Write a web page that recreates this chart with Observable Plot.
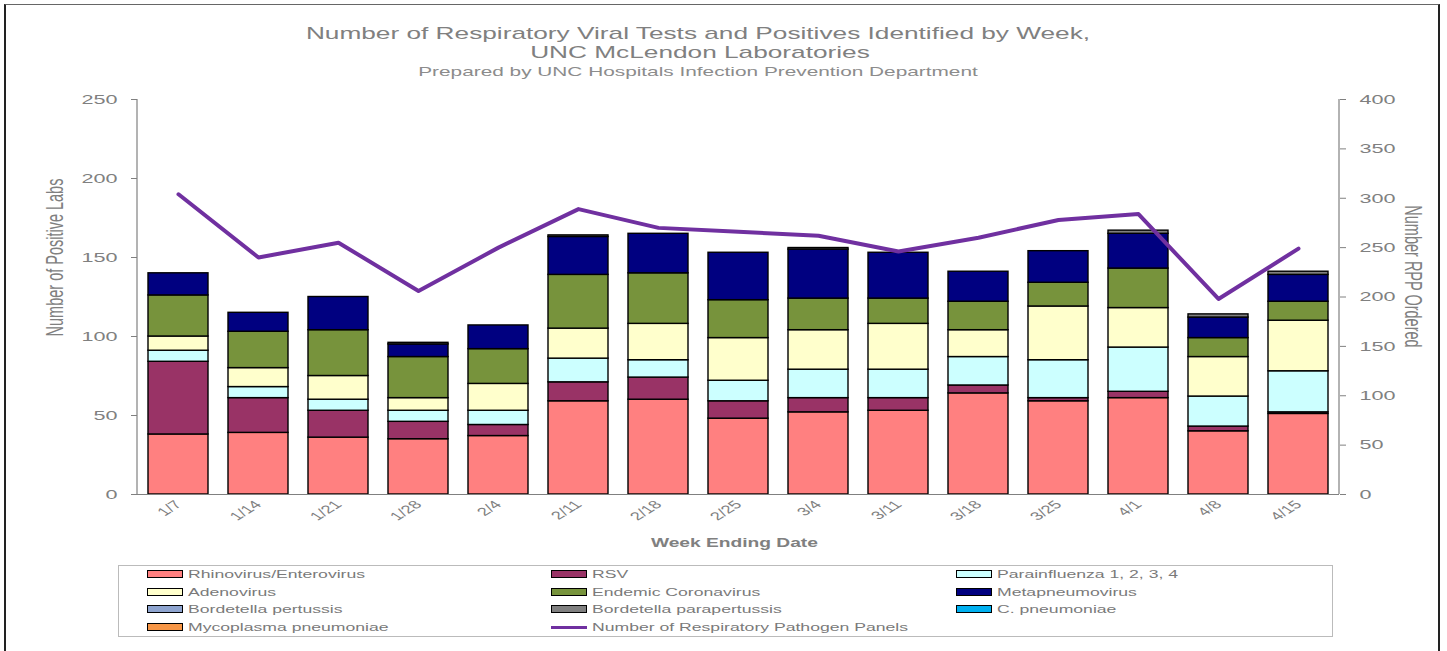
<!DOCTYPE html>
<html><head><meta charset="utf-8">
<script src="https://cdn.jsdelivr.net/npm/d3@7"></script>
<script src="https://cdn.jsdelivr.net/npm/@observablehq/plot@0.6"></script>
<style>
body{margin:0;background:#fff;font-family:"Liberation Sans",Arial,sans-serif;}
#page{position:relative;width:1447px;height:651px;overflow:hidden;background:#fff;}
#frame{position:absolute;left:4px;top:4px;width:1436px;height:700px;border-left:2px solid #222;border-right:2px solid #222;border-top:1px solid #666;box-sizing:border-box;}
.t{position:absolute;white-space:nowrap;color:#808080;line-height:1;}
#chart{position:absolute;left:0;top:80px;}
#legend{position:absolute;left:118px;top:565px;width:1215px;height:72px;border:1px solid #bbb;box-sizing:border-box;}
.sw{position:absolute;width:36px;height:8px;box-sizing:border-box;border:1.5px solid #000;}
.ln{position:absolute;width:36px;height:3px;}
</style>
</head><body>
<div id="page">
  <div id="frame"></div>
  <div class="t" id="t1" style="left:698px;top:33px;font-size:16.4px;">Number of Respiratory Viral Tests and Positives Identified by Week,</div>
  <div class="t" id="t2" style="left:700px;top:52px;font-size:16.4px;">UNC McLendon Laboratories</div>
  <div class="t" id="t3" style="left:698px;top:71px;font-size:13px;color:#8c8c8c;">Prepared by UNC Hospitals Infection Prevention Department</div>
  <div id="chart"></div>
  <div id="legend"></div>
</div>
<script>
const S = 1.6; // horizontal stretch of the original picture

const weeks = ["1/7","1/14","1/21","1/28","2/4","2/11","2/18","2/25","3/4","3/11","3/18","3/25","4/1","4/8","4/15"];
const rhino      = [38,39,36,35,37,59,60,48,52,53,64,59,61,40,51];
const rsv        = [46,22,17,11, 7,12,14,11, 9, 8, 5, 2, 4, 3, 1];
const parainf    = [ 7, 7, 7, 7, 9,15,11,13,18,18,18,24,28,19,26];
const adeno      = [ 9,12,15, 8,17,19,23,27,25,29,17,34,25,25,32];
const corona     = [26,23,29,26,22,34,32,24,20,16,18,15,25,12,12];
const metapneumo = [14,12,21, 8,15,24,25,30,31,29,19,20,22,13,17];
const pertussis  = [ 0, 0, 0, 0, 0, 0, 0, 0, 0, 0, 0, 0, 0, 0, 0];
const parapert   = [ 0, 0, 0, 1, 0, 1, 0, 0, 1, 0, 0, 0, 2, 2, 2];
const cpneumo    = [ 0, 0, 0, 0, 0, 0, 0, 0, 0, 0, 0, 0, 0, 0, 0];
const mycoplasma = [ 0, 0, 0, 0, 0, 0, 0, 0, 0, 0, 0, 0, 0, 0, 0];
const rppOrdered = [304,240,255,206,250,289,270,266,262,246,260,278,284,198,249];

const seriesNames = ["Rhinovirus/Enterovirus","RSV","Parainfluenza 1, 2, 3, 4","Adenovirus","Endemic Coronavirus","Metapneumovirus","Bordetella pertussis","Bordetella parapertussis","C. pneumoniae","Mycoplasma pneumoniae"];
const seriesValues = [rhino,rsv,parainf,adeno,corona,metapneumo,pertussis,parapert,cpneumo,mycoplasma];
const seriesColors = ["#FF8080","#993366","#CCFFFF","#FFFFCC","#77933C","#000080","#8EA4CF","#808080","#00B0F0","#F79646"];
const lineName = "Number of Respiratory Pathogen Panels";
const lineColor = "#7030A0";
const leftTicks = [0,50,100,150,200,250];
const rightTicks = [0,50,100,150,200,250,300,350,400];
const leftMax = 250, rightMax = 400;

const rows = weeks.flatMap((w,i) => seriesNames.map((s,j) => ({week:w, series:s, value:seriesValues[j][i]}))).filter(d => d.value > 0);
const linePts = weeks.map((w,i) => ({week:w, rpp:rppOrdered[i]}));
const toLeft = v => v * leftMax / rightMax;

const gray = "#808080";
const plot = Plot.plot({
  width: 1447, height: 480,
  marginTop: 19, marginBottom: 66, marginLeft: 137, marginRight: 108,
  style: {fontFamily: "'Liberation Sans', Arial, sans-serif", background: "transparent", overflow: "visible"},
  x: {domain: weeks, paddingInner: 0.25, paddingOuter: 0.125, axis: null},
  y: {domain: [0, leftMax], axis: null},
  color: {domain: seriesNames, range: seriesColors},
  marks: [
    Plot.barY(rows, {x: "week", y: "value", fill: "series", stroke: "#000", strokeWidth: 1.4}),
    Plot.line(linePts, {x: "week", y: d => toLeft(d.rpp), stroke: lineColor, strokeWidth: 4}),
    Plot.ruleY([0], {stroke: gray, strokeWidth: 1.2}),
    Plot.axisY(leftTicks, {anchor: "left", tickSize: 6, tickPadding: 14, fontSize: 13.5, color: gray, label: null}),
    Plot.axisY(rightTicks.map(toLeft), {anchor: "right", tickSize: 6, tickPadding: 14, fontSize: 13.5, color: gray, label: null, tickFormat: v => String(Math.round(v * rightMax / leftMax))}),
    Plot.axisX({anchor: "bottom", tickRotate: -45, tickSize: 0, tickPadding: 8, fontSize: 11.5, color: gray, label: null}),
    Plot.text(["Number of Positive Labs"], {frameAnchor: "left", textAnchor: "middle", y: () => 150, dx: -82, rotate: -90, fontSize: 14.5, fill: gray, text: d => d}),
    Plot.text(["Number RPP Ordered"], {frameAnchor: "right", textAnchor: "middle", y: () => 138, dx: 73, rotate: 90, fontSize: 14.5, fill: gray, text: d => d}),
    Plot.text(["Week Ending Date"], {frameAnchor: "bottom", dy: 52, dx: -4, fontSize: 12, fontWeight: "bold", fill: gray, text: d => d})
  ]
});
document.getElementById("chart").appendChild(plot);

// vertical axis lines from the library's scales
const xs = plot.scale("x"), ys = plot.scale("y");
const svg = d3.select(plot);
const [x0, x1] = xs.range, [yb, yt] = ys.range;
[x0, x1].forEach(x => svg.append("line").attr("x1", x).attr("x2", x).attr("y1", yb).attr("y2", yt).attr("stroke", gray).attr("stroke-width", 1.2));

// stretch every svg text horizontally like the original picture
plot.querySelectorAll("text").forEach(el => {
  const bb = el.getBBox();
  const a = getComputedStyle(el).textAnchor;
  const px = a === "end" ? bb.x + bb.width : a === "middle" ? bb.x + bb.width / 2 : bb.x;
  const py = bb.y + bb.height / 2;
  const tr = el.transform.baseVal.consolidate();
  const m = tr ? tr.matrix : {a:1,b:0,c:0,d:1,e:0,f:0};
  const Px = m.a * px + m.c * py + m.e, Py = m.b * px + m.d * py + m.f;
  const t0 = el.getAttribute("transform") || "";
  el.setAttribute("transform", `translate(${Px},${Py}) scale(${S},1) translate(${-Px},${-Py}) ${t0}`);
});

// titles
["t1","t2","t3"].forEach(id => {
  const el = document.getElementById(id);
  el.style.transform = `translate(-50%,-50%) scaleX(${S})`;
});

// legend
const legendItems = seriesNames.map((n,i) => ({name:n, color:seriesColors[i], line:false})).concat([{name:lineName, color:lineColor, line:true}]);
const colX = [28, 432, 837], rowY = [8, 25.5, 43, 61];
const leg = document.getElementById("legend");
legendItems.forEach((it, k) => {
  const c = k % 3, r = Math.floor(k / 3);
  const sw = document.createElement("div");
  sw.className = it.line ? "ln" : "sw";
  sw.style.left = colX[c] + "px";
  sw.style.top = (rowY[r] - (it.line ? 1.5 : 4)) + "px";
  sw.style.background = it.color;
  leg.appendChild(sw);
  const tx = document.createElement("div");
  tx.className = "t";
  tx.textContent = it.name;
  tx.style.left = (colX[c] + 41) + "px";
  tx.style.top = rowY[r] + "px";
  tx.style.fontSize = "11px";
  tx.style.color = "#7a7a7a";
  tx.style.transformOrigin = "left center";
  tx.style.transform = `translateY(-50%) scaleX(${S})`;
  leg.appendChild(tx);
});
</script>
</body></html>
